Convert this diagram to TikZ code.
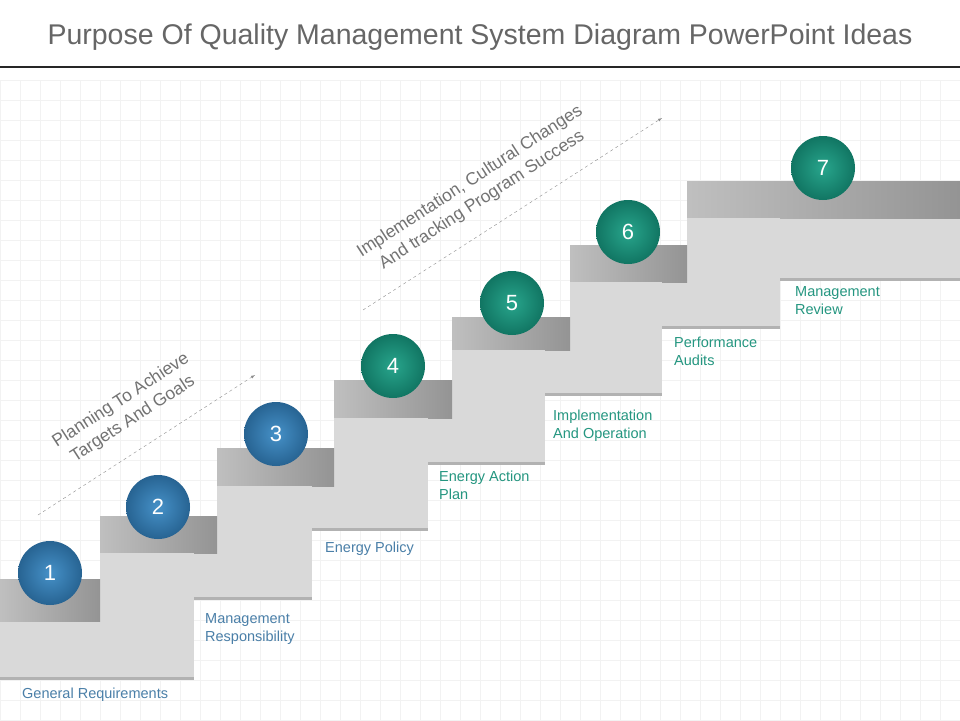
\documentclass[tikz,border=0pt]{standalone}
\usepackage{fontspec}
\setmainfont{Liberation Sans}
\definecolor{bb}{RGB}{46,117,172}
\definecolor{bbl}{RGB}{70,145,200}
\definecolor{gg}{RGB}{20,138,116}
\definecolor{ggl}{RGB}{40,165,140}
\begin{document}
\begin{tikzpicture}[x=1pt,y=-1pt,
  light/.style={fill=black!15, draw=none},
  dark/.style={left color=black!25, right color=black!42, draw=none},
  shad/.style={fill=black!30, draw=none},
  ballb/.style={circle, minimum size=64pt, inner sep=0pt, inner color=bbl, outer color=bb!85!black, text=white, font=\fontsize{22}{24}\selectfont},
  ballg/.style={circle, minimum size=64pt, inner sep=0pt, inner color=ggl, outer color=gg!85!black, text=white, font=\fontsize{22}{24}\selectfont},
  lblb/.style={anchor=north west, align=left, inner sep=0pt, text={rgb,255:red,74;green,127;blue,168}, font=\fontsize{14.5}{18}\selectfont},
  lblg/.style={anchor=north west, align=left, inner sep=0pt, text={rgb,255:red,36;green,150;blue,128}, font=\fontsize{14.5}{18}\selectfont},
  diag/.style={align=center, text=black!55, font=\fontsize{17.5}{22}\selectfont, inner sep=0pt},
  dasharrow/.style={draw=black!45, dashed, -latex}]
\useasboundingbox (0,0) rectangle (960,720);
\fill[white] (0,0) rectangle (960,720);
\foreach \i in {0,20,...,960} \draw[black!5] (\i,80) -- (\i,720);
\foreach \j in {80,100,...,720} \draw[black!5] (0,\j) -- (960,\j);
\node[font=\fontsize{28.5}{30}\selectfont, text=black!60] (title) at (480,37) {Purpose Of Quality Management System Diagram PowerPoint Ideas};
\draw[black!85, line width=2] (0,67) -- (960,67);
% step 7
\fill[light] (687,218) rectangle (960,278);
\fill[shad] (780,278) rectangle (960,281);
\fill[dark] (687,181) rectangle (960,218);
% step 6
\fill[light] (570,282) rectangle (780,326);
\fill[light] (687,218) rectangle (780,282);
\fill[shad] (662,326) rectangle (780,329);
\fill[dark] (570,245) rectangle (687,282);
% step 5
\fill[light] (452,350) rectangle (662,393);
\fill[light] (570,282) rectangle (662,350);
\fill[shad] (545,393) rectangle (662,396);
\fill[dark] (452,317) rectangle (570,350);
% step 4
\fill[light] (334,418) rectangle (545,462);
\fill[light] (452,350) rectangle (545,418);
\fill[shad] (428,462) rectangle (545,465);
\fill[dark] (334,380) rectangle (452,418);
% step 3
\fill[light] (217,486) rectangle (428,528);
\fill[light] (334,418) rectangle (428,486);
\fill[shad] (312,528) rectangle (428,531);
\fill[dark] (217,448) rectangle (334,486);
% step 2
\fill[light] (100,553) rectangle (312,597);
\fill[light] (217,486) rectangle (312,553);
\fill[shad] (194,597) rectangle (312,600);
\fill[dark] (100,516) rectangle (217,553);
% step 1
\fill[light] (0,621) rectangle (194,677);
\fill[light] (100,553) rectangle (194,621);
\fill[shad] (0,677) rectangle (194,680);
\fill[dark] (0,579) rectangle (100,621);
% balls
\node[ballb] (b1) at (50,573) {1};
\node[ballb] (b2) at (158,507) {2};
\node[ballb] (b3) at (276,434) {3};
\node[ballg] (b4) at (393,366) {4};
\node[ballg] (b5) at (512,303) {5};
\node[ballg] (b6) at (628,232) {6};
\node[ballg] (b7) at (823,168) {7};
% labels
\node[lblb] (l1) at (22,688) {General Requirements};
\node[lblb] (l2) at (205,613) {Management\\Responsibility};
\node[lblb] (l3) at (325,542) {Energy Policy};
\node[lblg] (l4) at (439,471) {Energy Action\\Plan};
\node[lblg] (l5) at (553,410) {Implementation\\And Operation};
\node[lblg] (l6) at (674,337) {Performance\\Audits};
\node[lblg] (l7) at (795,286) {Management\\Review};
% arrows
\coordinate (a1s) at (38,515); \coordinate (a1e) at (255,375);
\coordinate (a2s) at (363,310); \coordinate (a2e) at (662,118);
\draw[dasharrow] (a1s) -- (a1e);
\draw[dasharrow] (a2s) -- (a2e);
\node[diag, rotate=33] (t1) at (127,410) {Planning To Achieve\\Targets And Goals};
\node[diag, rotate=33] (t2) at (476,191) {Implementation, Cultural Changes\\And tracking Program Success};
\end{tikzpicture}
\end{document}
